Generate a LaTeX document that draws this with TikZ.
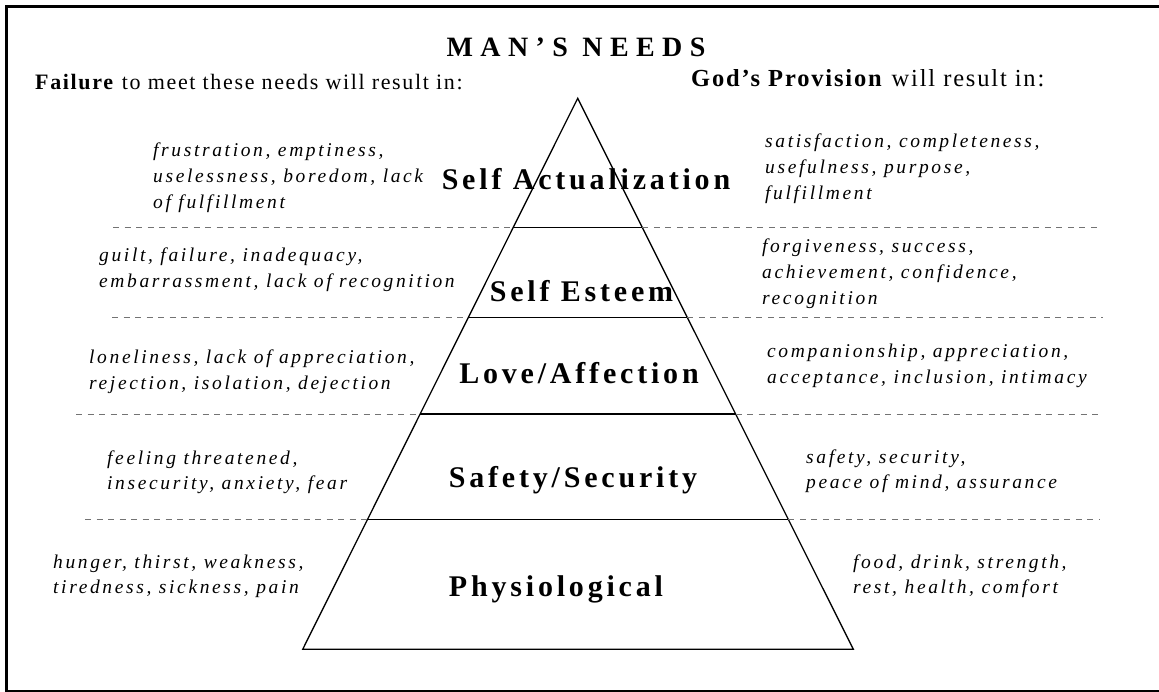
\documentclass[tikz,border=0pt]{standalone}
\usepackage{fontspec}
\setmainfont{Liberation Serif}
\newfontfamily\bodyfont[LetterSpace=13.5]{Liberation Serif}
\newfontfamily\hdrfont[LetterSpace=7.5]{Liberation Serif}
\newfontfamily\lvlfont[LetterSpace=12.7]{Liberation Serif}
\newfontfamily\headfont[LetterSpace=26.5]{Liberation Serif}
\usetikzlibrary{calc}
\newcommand\LinesII[2]{\vtop{\baselineskip=25.7pt\hbox{#1}\hbox{#2}}}
\newcommand\LinesIII[3]{\vtop{\baselineskip=25.7pt\hbox{#1}\hbox{#2}\hbox{#3}}}
\begin{document}
\begin{tikzpicture}[x=1pt,y=-1pt,
  txt/.style={inner sep=0pt, anchor=base west, font=\bodyfont\fontsize{19.5}{25.7}\selectfont\itshape},
  hdr/.style={inner sep=0pt, anchor=base west, font=\hdrfont\fontsize{#1}{#1}\selectfont},
  lvl/.style={inner sep=0pt, anchor=base, font=\lvlfont\fontsize{30}{32}\selectfont\bfseries},
  ttl/.style={inner sep=0pt, anchor=base, font=\headfont\fontsize{28}{30}\selectfont\bfseries},
  pyr/.style={line width=1.3pt, black},
  sep/.style={black!55, line width=0.9pt, dash pattern=on 6pt off 5.5pt},
  frm/.style={line width=3.3pt, black}
]
\useasboundingbox (0,0) rectangle (1159,692);
% frame
\draw[frm] (1170,6.7) -- (6.7,6.7) -- (6.7,691.3) -- (1170,691.3);
% pyramid
\coordinate (apex) at (577.7,98.3);
\coordinate (bl) at (302.7,649.3);
\coordinate (br) at (853.3,649.3);
\draw[pyr, line join=miter] (apex) -- (bl) -- (br) -- cycle;
\foreach \t/\n in {0.2348/1,0.3975/2,0.5730/3,0.7641/4} {
  \coordinate (l\n) at ($(apex)!\t!(bl)$);
  \coordinate (r\n) at ($(apex)!\t!(br)$);
  \draw[pyr] (l\n) -- (r\n);
}
% dashed separators
\foreach \n/\a/\b in {1/113/1100, 2/112/1103, 3/76/1103, 4/85/1100} {
  \draw[sep] (\a,0 |- l\n) -- (l\n);
  \draw[sep] (r\n) -- (\b,0 |- r\n);
}
% title and headers
\node[ttl] (title) at (576,57) {MAN’S NEEDS};
\node[hdr=22] (failhdr) at (35,90) {\textbf{Failure} to meet these needs will result in:};
\node[hdr=24.5] (godhdr) at (691,87) {\textbf{God’s Provision} will result in:};
% pyramid labels
\node[lvl] (p5) at (586,190) {Self Actualization};
\node[lvl] (p4) at (581.5,301.7) {Self Esteem};
\node[lvl] (p3) at (579,384) {Love/Affection};
\node[lvl] (p2) at (573,487) {Safety/Security};
\node[lvl] (p1) at (556,596) {Physiological};
% left column
\node[txt] (f5) at (153,157) {\LinesIII{frustration, emptiness,}{uselessness, boredom, lack}{of fulfillment}};
\node[txt] (f4) at (99,261.7) {\LinesII{guilt, failure, inadequacy,}{embarrassment, lack of recognition}};
\node[txt] (f3) at (89,364) {\LinesII{loneliness, lack of appreciation,}{rejection, isolation, dejection}};
\node[txt] (f2) at (107,464) {\LinesII{feeling threatened,}{insecurity, anxiety, fear}};
\node[txt] (f1) at (53,568) {\LinesII{hunger, thirst, weakness,}{tiredness, sickness, pain}};
% right column
\node[txt] (g5) at (765,148) {\LinesIII{satisfaction, completeness,}{usefulness, purpose,}{fulfillment}};
\node[txt] (g4) at (762,253) {\LinesIII{forgiveness, success,}{achievement, confidence,}{recognition}};
\node[txt] (g3) at (767,358) {\LinesII{companionship, appreciation,}{acceptance, inclusion, intimacy}};
\node[txt] (g2) at (806,463) {\LinesII{safety, security,}{peace of mind, assurance}};
\node[txt] (g1) at (853,568) {\LinesII{food, drink, strength,}{rest, health, comfort}};
\end{tikzpicture}
\end{document}
